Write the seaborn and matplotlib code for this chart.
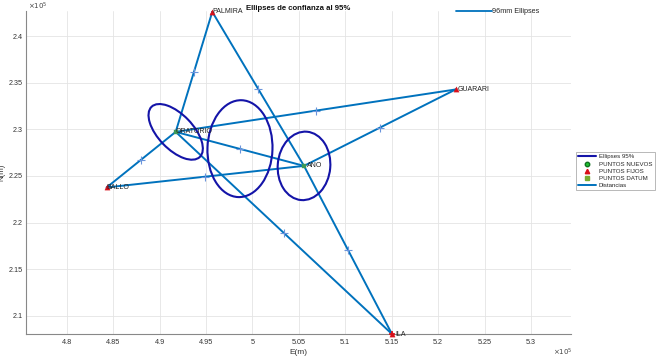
import numpy as np
import pandas as pd
import matplotlib
matplotlib.use("Agg")
import matplotlib.pyplot as plt
from matplotlib.patches import Ellipse
from matplotlib.lines import Line2D
from matplotlib.ticker import FuncFormatter
import seaborn as sns

# ---- data ----
names = ["PALMIRA", "GUARARI", "ORATORIO", "ANO", "BALLO", "ILA"]
east = [495680, 521890, 491740, 505560, 484310, 515030]
north = [242610, 234280, 229730, 226080, 223770, 208040]
kind = ["FIJO", "FIJO", "DATUM", "DATUM", "FIJO", "FIJO"]
label_offset_pt = [0, 1.5, 0, 2, 0, 2.5]

seg_from = ["BALLO", "BALLO", "ORATORIO", "PALMIRA", "ANO", "ORATORIO", "ANO", "ORATORIO", "ORATORIO"]
seg_to = ["ORATORIO", "ANO", "PALMIRA", "ANO", "ILA", "GUARARI", "GUARARI", "ANO", "ILA"]

ell_center_e = [491740, 498663, 505560]
ell_center_n = [229730, 227929, 226080]
ell_width = [7480, 7000, 5660]
ell_height = [3740, 10400, 7360]
ell_angle = [-46, -2, -5]

x_ticks = [480000, 485000, 490000, 495000, 500000, 505000, 510000, 515000, 520000, 525000, 530000]
y_ticks = [210000, 215000, 220000, 225000, 230000, 235000, 240000]

# ---- style ----
sns.set_theme(style="white")
plt.rcParams["font.family"] = ["Liberation Sans", "DejaVu Sans"]

C_LINE = "#0072BD"
C_ELL = "#1414A8"
C_FIJO = "#D9101A"
C_DATUM = "#3C9A58"
C_MID = "#6A94DC"

fig = plt.figure(figsize=(6.59, 3.58), dpi=100)
ax = fig.add_axes([26 / 659, 1 - 334 / 358, (570.7 - 26) / 659, (334 - 11) / 358])

pts = pd.DataFrame({"name": names, "E": east, "N": north, "kind": kind})
idx = {n: i for i, n in enumerate(names)}

rows = []
mids = []
for k, (a, b) in enumerate(zip(seg_from, seg_to)):
    ia, ib = idx[a], idx[b]
    rows.append({"seg": k, "E": east[ia], "N": north[ia]})
    rows.append({"seg": k, "E": east[ib], "N": north[ib]})
    mids.append({"E": (east[ia] + east[ib]) / 2, "N": (north[ia] + north[ib]) / 2})
segs = pd.DataFrame(rows)
mid = pd.DataFrame(mids)

# distances
sns.lineplot(data=segs, x="E", y="N", units="seg", estimator=None, sort=False,
             color=C_LINE, lw=1.4, ax=ax, legend=False, zorder=3)
# midpoint marks
sns.scatterplot(data=mid, x="E", y="N", marker="+", s=30, color=C_MID,
                linewidth=0.8, ax=ax, legend=False, zorder=4)

# ellipses
for ce, cn, w, h, ang in zip(ell_center_e, ell_center_n, ell_width, ell_height, ell_angle):
    ax.add_patch(Ellipse((ce, cn), w, h, angle=ang, fill=False, edgecolor=C_ELL,
                         lw=1.5, zorder=5))

# points
fij = pts[pts["kind"] == "FIJO"]
dat = pts[pts["kind"] == "DATUM"]
sns.scatterplot(data=fij, x="E", y="N", marker="^", s=14, color=C_FIJO,
                edgecolor=C_FIJO, ax=ax, legend=False, zorder=6, clip_on=False)
sns.scatterplot(data=dat, x="E", y="N", marker="s", s=11, color=C_DATUM,
                edgecolor=C_DATUM, ax=ax, legend=False, zorder=6)
ila = pts[pts["name"] == "ILA"]
sns.scatterplot(data=ila, x="E", y="N", marker="+", s=25, color=C_FIJO,
                linewidth=1.2, ax=ax, legend=False, zorder=7, clip_on=False)

for n, e, nn, off in zip(names, east, north, label_offset_pt):
    ax.annotate(n, (e, nn), xytext=(off, 0), textcoords="offset points",
                ha="left", va="center", fontsize=5, color="#222222", zorder=8,
                annotation_clip=False)

# axes
ax.set_xlim(475620, 534280)
ax.set_ylim(208040, 242700)
ax.set_xticks(x_ticks)
ax.set_yticks(y_ticks)
fmt = FuncFormatter(lambda v, p: f"{v / 1e5:g}")
ax.xaxis.set_major_formatter(fmt)
ax.yaxis.set_major_formatter(fmt)
ax.tick_params(direction="in", length=3, width=0.6, colors="#555555",
               labelsize=5.2, labelcolor="#333333", pad=3.5)
ax.tick_params(axis="y", pad=2.2)
ax.grid(True, color="#E4E4E4", lw=0.6)
for s in ["top", "right"]:
    ax.spines[s].set_visible(False)
for s in ["left", "bottom"]:
    ax.spines[s].set_color("#888888")
    ax.spines[s].set_linewidth(0.8)

ax.set_xlabel("E(m)", fontsize=6, color="#333333")
ax.set_ylabel("N(m)", fontsize=5.6, color="#333333")
ax.xaxis.set_label_coords(0.5, -0.045)
ax.yaxis.set_label_coords(-0.037, 0.5)
ax.set_title("Ellipses de confianza al 95%", fontsize=5.6, fontweight="bold",
             color="#111111", pad=0.5)

fig.text(28 / 659, 1 - 6 / 358, r"$\times10^5$", fontsize=5, color="#444444",
         ha="left", va="center")
fig.text(553 / 659, 1 - 352 / 358, r"$\times10^5$", fontsize=5, color="#444444",
         ha="left", va="center")

# legends
h_main = [
    Line2D([], [], color=C_ELL, lw=1.5, label="Ellipses 95%"),
    Line2D([], [], color="#1A9A2A", marker="o", ls="none", ms=3.2, mfc="#20C030",
           mec="#107020", label="PUNTOS NUEVOS"),
    Line2D([], [], color=C_FIJO, marker="^", ls="none", ms=3.2, label="PUNTOS FIJOS"),
    Line2D([], [], color="#77AC30", marker="s", ls="none", ms=3.0, label="PUNTOS DATUM"),
    Line2D([], [], color=C_LINE, lw=1.4, label="Distancias"),
]
leg = fig.legend(handles=h_main, loc="upper left",
                 bbox_to_anchor=(576 / 659, 1 - 152 / 358), fontsize=4.4,
                 frameon=True, fancybox=False, edgecolor="#999999",
                 handlelength=3.0, handletextpad=0.4, labelspacing=0.32,
                 borderpad=0.35, borderaxespad=0)
leg.get_frame().set_linewidth(0.6)

h_top = [Line2D([], [], color=C_LINE, lw=1.3, label="96mm Ellipses")]
fig.legend(handles=h_top, loc="upper left", bbox_to_anchor=(456 / 659, 1 - 8 / 358),
           fontsize=5.2, frameon=False, handlelength=5.0, handletextpad=0.05,
           borderpad=0, borderaxespad=0)

fig.savefig("out.png", dpi=100)
